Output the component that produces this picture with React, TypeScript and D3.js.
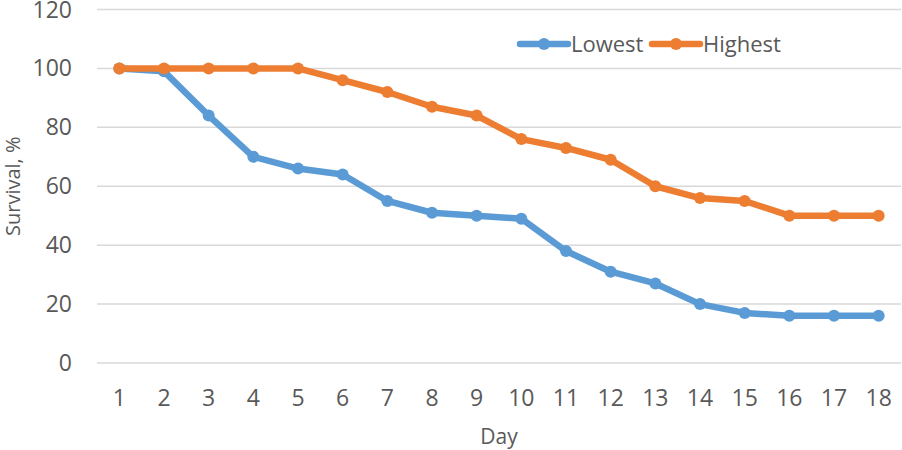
import React, { useEffect, useRef } from 'react';
import * as d3 from 'd3';

const days = ['1', '2', '3', '4', '5', '6', '7', '8', '9', '10', '11', '12', '13', '14', '15', '16', '17', '18'];
const lowest = [100, 99, 84, 70, 66, 64, 55, 51, 50, 49, 38, 31, 27, 20, 17, 16, 16, 16];
const highest = [100, 100, 100, 100, 100, 96, 92, 87, 84, 76, 73, 69, 60, 56, 55, 50, 50, 50];
const yTicks = [0, 20, 40, 60, 80, 100, 120];
const seriesNames = ['Lowest', 'Highest'];

const W = 902;
const H = 450;
const FONT = '"Open Sans", "Noto Sans", sans-serif';
const TEXT = '#595959';
const colors = ['#5B9BD5', '#ED7D31'];

const App: React.FC = () => {
  const svgRef = useRef<SVGSVGElement>(null);

  useEffect(() => {
    if (!svgRef.current) return;
    const svg = d3.select(svgRef.current);
    svg.selectAll('*').remove();

    const left = 97, right = 901, top = 9.5, bottom = 363;

    const x = d3.scaleBand().domain(days).range([left, right]);
    const y = d3.scaleLinear().domain([0, 120]).range([bottom, top]);
    const cx = (d: string) => x(d)! + x.bandwidth() / 2;

    // gridlines
    svg.append('g')
      .selectAll('line')
      .data(yTicks)
      .join('line')
      .attr('x1', left)
      .attr('x2', right)
      .attr('y1', d => y(d))
      .attr('y2', d => y(d))
      .attr('stroke', '#D9D9D9')
      .attr('stroke-width', 1.5);

    // y tick labels
    svg.append('g')
      .selectAll('text')
      .data(yTicks)
      .join('text')
      .attr('x', 72)
      .attr('y', d => y(d))
      .attr('dy', '0.35em')
      .attr('text-anchor', 'end')
      .attr('font-family', FONT)
      .attr('font-size', 23)
      .attr('fill', TEXT)
      .text(d => d);

    // x tick labels
    svg.append('g')
      .selectAll('text')
      .data(days)
      .join('text')
      .attr('x', d => cx(d))
      .attr('y', 398)
      .attr('dy', '0.35em')
      .attr('text-anchor', 'middle')
      .attr('font-family', FONT)
      .attr('font-size', 23)
      .attr('fill', TEXT)
      .text(d => d);

    // axis titles
    svg.append('text')
      .attr('x', (left + right) / 2)
      .attr('y', 437)
      .attr('dy', '0.35em')
      .attr('text-anchor', 'middle')
      .attr('font-family', FONT)
      .attr('font-size', 21)
      .attr('fill', TEXT)
      .text('Day');

    svg.append('text')
      .attr('transform', `translate(13,${(top + bottom) / 2}) rotate(-90)`)
      .attr('dy', '0.35em')
      .attr('text-anchor', 'middle')
      .attr('font-family', FONT)
      .attr('font-size', 20)
      .attr('fill', TEXT)
      .text('Survival, %');

    const line = d3.line<number>()
      .x((_, i) => cx(days[i]))
      .y(d => y(d));

    [lowest, highest].forEach((values, si) => {
      const g = svg.append('g');
      g.append('path')
        .datum(values)
        .attr('d', line)
        .attr('fill', 'none')
        .attr('stroke', colors[si])
        .attr('stroke-width', 6.5)
        .attr('stroke-linejoin', 'round')
        .attr('stroke-linecap', 'round');
      g.selectAll('circle')
        .data(values)
        .join('circle')
        .attr('cx', (_, i) => cx(days[i]))
        .attr('cy', d => y(d))
        .attr('r', 6)
        .attr('fill', colors[si]);
    });

    // legend
    const legendX = [520, 652];
    const legendY = 44;
    seriesNames.forEach((name, i) => {
      const g = svg.append('g');
      g.append('line')
        .attr('x1', legendX[i])
        .attr('x2', legendX[i] + 48)
        .attr('y1', legendY)
        .attr('y2', legendY)
        .attr('stroke', colors[i])
        .attr('stroke-width', 6.5)
        .attr('stroke-linecap', 'round');
      g.append('circle')
        .attr('cx', legendX[i] + 24)
        .attr('cy', legendY)
        .attr('r', 6)
        .attr('fill', colors[i]);
      g.append('text')
        .attr('x', legendX[i] + 51)
        .attr('y', legendY)
        .attr('dy', '0.35em')
        .attr('font-family', FONT)
        .attr('font-size', 22)
        .attr('fill', TEXT)
        .text(name);
    });
  }, []);

  return (
    <svg
      ref={svgRef}
      width={W}
      height={H}
      style={{ position: 'absolute', left: 0, top: 0, background: '#fff' }}
    />
  );
};

export default App;
